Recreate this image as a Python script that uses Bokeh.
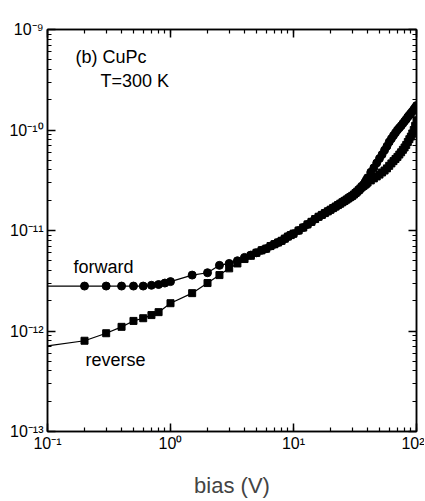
from bokeh.plotting import figure
from bokeh.models import LogAxis, LogTicker, CustomJSTickFormatter, Label
from bokeh.embed import file_html
from bokeh.resources import INLINE

# ---- data ----
fwd_bias = [0.1, 0.2, 0.3, 0.4, 0.5, 0.6, 0.7, 0.8, 0.9, 1.0, 1.5, 2.0, 2.5, 3.0, 3.5, 4.0,
            4.5, 5.0, 5.5, 6.0, 6.5, 7.0, 7.5, 8.0, 8.5, 9.0, 9.5, 10, 11, 12, 13, 14, 15,
            16, 17, 18, 19, 20, 21, 22, 23, 24, 25, 26, 27, 28, 29, 30, 31, 32, 33, 34, 35,
            36, 37, 38, 39, 40, 42.5, 45, 47.5, 50, 52.5, 55, 57.5, 60, 62.5, 65, 67.5, 70,
            72.5, 75, 77.5, 80, 82.5, 85, 87.5, 90, 92.5, 95, 97.5, 100]
fwd_current = [2.8e-12, 2.8e-12, 2.8e-12, 2.8e-12, 2.8e-12, 2.8e-12, 2.85e-12, 2.9e-12,
               3.0e-12, 3.1e-12, 3.6e-12, 3.8e-12, 4.5e-12, 4.7e-12, 5.0e-12, 5.4e-12,
               5.7e-12, 6.0e-12, 6.35e-12, 6.6e-12, 7.0e-12, 7.3e-12, 7.6e-12, 7.9e-12,
               8.3e-12, 8.7e-12, 9.0e-12, 9.3e-12, 1.0e-11, 1.07e-11, 1.15e-11, 1.22e-11,
               1.3e-11, 1.37e-11, 1.43e-11, 1.49e-11, 1.55e-11, 1.61e-11, 1.67e-11, 1.73e-11,
               1.79e-11, 1.85e-11, 1.91e-11, 1.97e-11, 2.03e-11, 2.09e-11, 2.15e-11, 2.21e-11,
               2.28e-11, 2.36e-11, 2.44e-11, 2.53e-11, 2.62e-11, 2.72e-11, 2.85e-11, 3.0e-11,
               3.17e-11, 3.35e-11, 3.8e-11, 4.2e-11, 4.7e-11, 5.2e-11, 5.7e-11, 6.3e-11,
               6.9e-11, 7.6e-11, 8.2e-11, 8.8e-11, 9.4e-11, 1.0e-10, 1.05e-10, 1.1e-10,
               1.16e-10, 1.22e-10, 1.28e-10, 1.35e-10, 1.41e-10, 1.47e-10, 1.53e-10, 1.6e-10,
               1.67e-10, 1.75e-10]

rev_bias = [0.1, 0.2, 0.3, 0.4, 0.5, 0.6, 0.7, 0.8, 1.0, 1.5, 2.0, 2.5, 3.0, 3.5, 4.0,
            4.5, 5.0, 5.5, 6.0, 6.5, 7.0, 7.5, 8.0, 8.5, 9.0, 9.5, 10, 11, 12, 13, 14, 15,
            16, 17, 18, 19, 20, 21, 22, 23, 24, 25, 26, 27, 28, 29, 30, 31, 32, 33, 34, 35,
            36, 37, 38, 39, 40, 42.5, 45, 47.5, 50, 52.5, 55, 57.5, 60, 62.5, 65, 67.5, 70,
            72.5, 75, 77.5, 80, 82.5, 85, 87.5, 90, 92.5, 95, 97.5, 100]
rev_current = [7.1e-13, 8.0e-13, 9.5e-13, 1.1e-12, 1.26e-12, 1.34e-12, 1.44e-12, 1.54e-12,
               1.89e-12, 2.38e-12, 3.0e-12, 3.6e-12, 4.2e-12, 4.7e-12, 5.2e-12, 5.6e-12,
               6.0e-12, 6.35e-12, 6.6e-12, 7.0e-12, 7.3e-12, 7.6e-12, 7.9e-12, 8.3e-12,
               8.7e-12, 9.0e-12, 9.3e-12, 1.0e-11, 1.07e-11, 1.15e-11, 1.22e-11, 1.3e-11,
               1.37e-11, 1.43e-11, 1.49e-11, 1.55e-11, 1.61e-11, 1.67e-11, 1.73e-11, 1.79e-11,
               1.85e-11, 1.91e-11, 1.97e-11, 2.03e-11, 2.09e-11, 2.15e-11, 2.21e-11, 2.28e-11,
               2.36e-11, 2.44e-11, 2.53e-11, 2.62e-11, 2.72e-11, 2.77e-11, 2.85e-11, 2.92e-11,
               3.0e-11, 3.15e-11, 3.3e-11, 3.45e-11, 3.6e-11, 3.78e-11, 3.95e-11, 4.15e-11,
               4.4e-11, 4.65e-11, 4.9e-11, 5.15e-11, 5.4e-11, 5.7e-11, 6.0e-11, 6.35e-11,
               6.7e-11, 7.1e-11, 7.6e-11, 8.1e-11, 8.6e-11, 9.2e-11, 1.0e-10, 1.1e-10,
               1.25e-10]

x_range = (0.1, 100)
y_range = (1e-13, 1e-9)

FONT = "Liberation Sans"

p = figure(width=424, height=500, x_axis_type="log", y_axis_type="log",
           x_range=x_range, y_range=y_range, output_backend="svg",
           toolbar_location=None, min_border_left=47, min_border_top=29,
           min_border_right=8, min_border_bottom=67)
p.grid.visible = False
p.outline_line_color = "black"
p.outline_line_width = 1.5
p.background_fill_color = "white"
p.border_fill_color = "white"

sup_code = """
const sup = {"-":"\u207b","0":"\u2070","1":"\u00b9","2":"\u00b2","3":"\u00b3","4":"\u2074",
             "5":"\u2075","6":"\u2076","7":"\u2077","8":"\u2078","9":"\u2079"};
const e = Math.round(Math.log10(tick));
return "10" + String(e).split("").map(c => sup[c]).join("");
"""

def style_axis(ax, labels=True):
    ax.ticker = LogTicker(num_minor_ticks=10)
    ax.axis_line_width = 1.5
    ax.axis_line_color = "black"
    ax.major_tick_in = 8
    ax.major_tick_out = 0
    ax.minor_tick_in = 4
    ax.minor_tick_out = 0
    ax.major_tick_line_width = 1.5
    ax.minor_tick_line_width = 1.2
    if labels:
        ax.formatter = CustomJSTickFormatter(code=sup_code)
        ax.major_label_text_font = FONT
        ax.major_label_text_font_size = "16px"
        ax.major_label_text_color = "black"
    else:
        ax.formatter = CustomJSTickFormatter(code="return '';")
        ax.major_label_standoff = 0

for ax in p.xaxis + p.yaxis:
    style_axis(ax)
p.xaxis.major_label_standoff = 3
p.yaxis.major_label_standoff = 4

p.xaxis.axis_label = "bias (V)"
p.xaxis.axis_label_text_font = FONT
p.xaxis.axis_label_text_font_size = "22px"
p.xaxis.axis_label_text_font_style = "normal"
p.xaxis.axis_label_standoff = 18

top = LogAxis()
style_axis(top, labels=False)
p.add_layout(top, "above")
right = LogAxis()
style_axis(right, labels=False)
p.add_layout(right, "right")

# lines
p.line(fwd_bias, fwd_current, line_color="black", line_width=1.2)
p.line(rev_bias, rev_current, line_color="black", line_width=1.2)
# markers (first point at 0.1 V is only the line start)
p.scatter(fwd_bias[1:], fwd_current[1:], marker="circle", size=8,
          fill_color="black", line_color="black")
p.scatter(rev_bias[1:], rev_current[1:], marker="square", size=7,
          fill_color="black", line_color="black")

def add_label(x, y, text):
    p.add_layout(Label(x=x, y=y, text=text, text_font=FONT, text_font_size="18px",
                       text_baseline="middle", text_align="left", text_color="black"))

add_label(0.169, 5.3e-10, "(b) CuPc")
add_label(0.27, 3.1e-10, "T=300 K")
add_label(0.163, 4.3e-12, "forward")
add_label(0.204, 5.2e-13, "reverse")

open("out.html", "w", encoding="utf-8").write(file_html(p, INLINE))
